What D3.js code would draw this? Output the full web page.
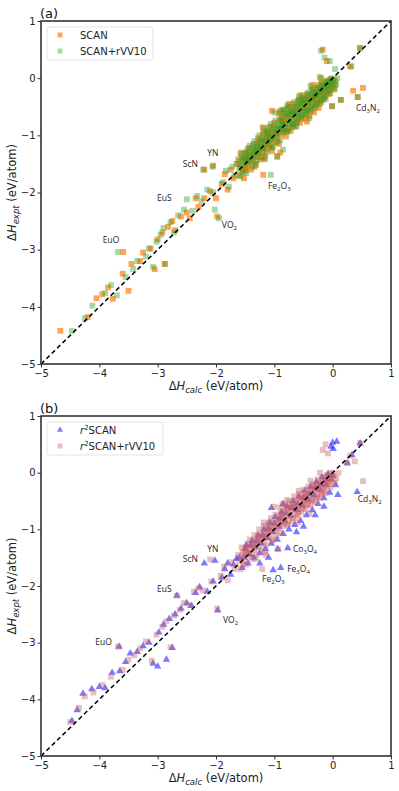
<!DOCTYPE html>
<html>
<head>
<meta charset="utf-8">
<script src="https://cdn.jsdelivr.net/npm/d3@7"></script>
<style>
  body { margin: 0; background: #fff; }
  svg { font-family: "DejaVu Sans", sans-serif; }
</style>
</head>
<body>
<script>
// axis ticks shared by both panels
const ticks = [-5, -4, -3, -2, -1, 0, 1];

// panel (a): SCAN, [calc, expt]
const scanPts = [
  [-4.67,-4.42],[-4.2,-4.18],[-4.05,-3.85],[-3.95,-3.78],[-3.85,-3.66],[-3.77,-3.86],[-3.6,-3.42],[-3.59,-3.04],
  [-3.5,-3.72],[-3.45,-3.25],[-3.3,-3.2],[-3.25,-3.05],[-3.12,-2.98],[-3.05,-3.34],[-3.0,-2.82],[-2.92,-2.7],
  [-2.88,-3.25],[-2.82,-2.6],[-2.75,-2.5],[-2.7,-2.66],[-2.6,-2.42],[-2.5,-2.35],[-2.45,-2.45],[-2.35,-2.1],
  [-2.3,-2.25],[-2.2,-1.6],[-2.2,-2.1],[-2.05,-1.53],[-2.1,-1.98],[-2.0,-2.1],[-1.98,-2.42],[-1.9,-1.85],
  [-1.85,-1.68],[-1.8,-1.95],[-1.75,-1.6],[-1.7,-1.75],[-1.65,-1.5],[-1.19,-1.69],[-0.95,-1.36],[-0.9,-1.3],
  [-0.17,0.5],[-0.1,0.3],[0.47,0.53],[0.3,0.21],[0.35,-0.22],[0.52,-0.17],[0.43,-0.33],[0.14,-0.38],[-0.01,-0.49],
  [-1.6,-1.45],[-1.6,-1.7],[-1.56,-1.38],[-1.56,-1.62],[-1.52,-1.5],[-1.52,-1.75],[-1.48,-1.3],[-1.48,-1.58],
  [-1.44,-1.22],[-1.44,-1.52],[-1.4,-1.35],[-1.4,-1.6],[-1.36,-1.15],[-1.36,-1.45],[-1.32,-1.25],[-1.32,-1.5],
  [-1.28,-1.05],[-1.28,-1.38],[-1.24,-1.18],[-1.24,-1.42],[-1.2,-0.98],[-1.2,-1.3],[-1.16,-1.1],[-1.16,-1.36],
  [-1.12,-0.92],[-1.12,-1.25],[-1.08,-0.85],[-1.08,-1.18],[-1.04,-0.95],[-1.04,-1.28],[-1.0,-0.78],[-1.0,-1.12],
  [-0.96,-0.88],[-0.96,-1.05],[-0.92,-0.62],[-0.92,-1.15],[-0.88,-0.7],[-0.88,-0.98],[-0.84,-0.58],[-0.84,-0.95],
  [-0.8,-0.66],[-0.8,-1.02],[-0.76,-0.52],[-0.76,-0.88],[-0.72,-0.6],[-0.72,-0.92],[-0.68,-0.45],[-0.68,-0.8],
  [-0.64,-0.55],[-0.64,-0.85],[-0.6,-0.4],[-0.6,-0.75],[-0.56,-0.48],[-0.56,-0.78],[-0.52,-0.34],[-0.52,-0.68],
  [-0.48,-0.42],[-0.48,-0.72],[-0.44,-0.28],[-0.44,-0.62],[-0.4,-0.36],[-0.4,-0.66],[-0.36,-0.22],[-0.36,-0.55],
  [-0.32,-0.3],[-0.32,-0.6],[-0.28,-0.16],[-0.28,-0.48],[-0.24,-0.25],[-0.24,-0.52],[-0.2,-0.1],[-0.2,-0.42],
  [-0.16,-0.18],[-0.16,-0.38],[-0.12,-0.06],[-0.12,-0.3],[-0.08,-0.14],[-0.08,-0.26],[-0.04,-0.02],[-0.04,-0.2],
  [0.0,-0.08],[0.0,-0.16],[0.04,-0.04],[0.04,-0.12],[-1.04,-0.57],[-0.9,-0.57],[-0.68,-0.82],[-0.44,-0.76],
  [-1.58,-1.56],[-1.54,-1.6],[-1.5,-1.45],[-1.46,-1.42],[-1.42,-1.45],[-1.38,-1.4],[-1.34,-1.3],[-1.3,-1.36],
  [-1.26,-1.22],[-1.22,-1.28],[-1.18,-1.15],[-1.14,-1.2],[-1.1,-1.05],[-1.06,-1.1],[-1.02,-1.02],[-0.98,-0.96],
  [-0.94,-0.92],[-0.9,-0.9],[-0.86,-0.82],[-0.82,-0.78],[-0.78,-0.74],[-0.74,-0.72],[-0.7,-0.68],[-0.66,-0.62],
  [-0.62,-0.65],[-0.58,-0.58],[-0.54,-0.52],[-0.5,-0.55],[-0.46,-0.46],[-0.42,-0.45],[-0.38,-0.4],[-0.34,-0.36],
  [-0.3,-0.38],[-0.26,-0.3],[-0.22,-0.32],[-0.18,-0.25],[-0.14,-0.2],[-0.1,-0.18],[-0.06,-0.12],[-0.02,-0.1],
  [-1.45,-1.38],[-1.25,-1.1],[-1.05,-0.98],[-0.85,-0.75],[-0.65,-0.58],[-0.45,-0.5],[-0.25,-0.35],[-1.15,-1.02],
  [-1.58,-1.32],[-1.5,-1.62],[-1.46,-1.34],[-1.38,-1.22],[-1.34,-1.55],[-1.26,-1.12],[-1.18,-1.4],[-1.14,-0.98],
  [-1.06,-1.2],[-1.02,-0.86],[-0.94,-1.1],[-0.9,-0.72],[-0.86,-0.92],[-0.82,-0.66],[-0.78,-0.9],[-0.74,-0.62],
  [-0.7,-0.82],[-0.66,-0.52],[-0.62,-0.76],[-0.58,-0.44],[-0.54,-0.66],[-0.5,-0.38],[-0.46,-0.58],[-0.42,-0.32],
  [-0.38,-0.52],[-0.34,-0.26],[-0.3,-0.46],[-0.26,-0.2],[-0.22,-0.4],[-0.18,-0.14],[-0.14,-0.34],[-0.1,-0.08],
  [-0.06,-0.28],[-0.02,-0.04],[0.02,-0.2],[-0.2,0.0],[-0.35,-0.12],[-0.55,-0.3],[-0.75,-0.45],[-1.2,-0.86]
];

// panel (a): SCAN+rVV10
const scanVdwPts = [
  [-4.47,-4.42],[-4.25,-4.2],[-4.12,-3.98],[-3.9,-3.76],[-3.8,-3.62],[-3.7,-3.8],[-3.68,-3.04],[-3.55,-3.48],
  [-3.42,-3.34],[-3.35,-3.2],[-3.2,-3.12],[-3.15,-2.98],[-3.08,-3.3],[-3.02,-2.86],[-2.95,-2.74],[-2.9,-2.62],
  [-2.87,-3.25],[-2.78,-2.52],[-2.72,-2.7],[-2.65,-2.4],[-2.55,-2.3],[-2.5,-2.12],[-2.4,-2.32],[-2.32,-2.06],
  [-2.25,-2.15],[-2.22,-1.6],[-2.15,-1.95],[-2.06,-1.55],[-2.05,-2.0],[-2.02,-2.3],[-1.95,-2.45],[-1.88,-1.82],
  [-1.83,-1.62],[-1.78,-1.9],[-1.72,-1.55],[-1.68,-1.7],[-1.62,-1.42],[-1.06,-1.69],[-0.95,-1.38],[-0.85,-1.25],
  [-0.2,0.48],[-0.14,0.36],[-0.05,0.3],[0.47,0.52],[0.32,0.2],[0.04,0.16],[0.43,-0.33],[0.14,-0.38],[-0.01,-0.49],
  [-1.62,-1.5],[-1.58,-1.72],[-1.54,-1.4],[-1.54,-1.65],[-1.5,-1.32],[-1.5,-1.56],[-1.46,-1.25],[-1.46,-1.48],
  [-1.42,-1.18],[-1.42,-1.42],[-1.38,-1.28],[-1.38,-1.55],[-1.34,-1.1],[-1.34,-1.36],[-1.3,-1.2],[-1.3,-1.44],
  [-1.26,-1.0],[-1.26,-1.3],[-1.22,-1.12],[-1.22,-1.38],[-1.18,-0.94],[-1.18,-1.22],[-1.14,-1.04],[-1.14,-1.3],
  [-1.1,-0.88],[-1.1,-1.16],[-1.06,-0.8],[-1.06,-1.08],[-1.02,-0.9],[-1.02,-1.2],[-0.98,-0.74],[-0.98,-1.02],
  [-0.94,-0.82],[-0.94,-0.98],[-0.9,-0.6],[-0.9,-1.08],[-0.86,-0.68],[-0.86,-0.9],[-0.82,-0.55],[-0.82,-0.86],
  [-0.78,-0.62],[-0.78,-0.94],[-0.74,-0.5],[-0.74,-0.8],[-0.7,-0.56],[-0.7,-0.86],[-0.66,-0.42],[-0.66,-0.72],
  [-0.62,-0.5],[-0.62,-0.78],[-0.58,-0.38],[-0.58,-0.68],[-0.54,-0.44],[-0.54,-0.7],[-0.5,-0.3],[-0.5,-0.6],
  [-0.46,-0.38],[-0.46,-0.64],[-0.42,-0.25],[-0.42,-0.55],[-0.38,-0.32],[-0.38,-0.58],[-0.34,-0.2],[-0.34,-0.48],
  [-0.3,-0.26],[-0.3,-0.52],[-0.26,-0.12],[-0.26,-0.42],[-0.22,-0.2],[-0.22,-0.45],[-0.18,-0.08],[-0.18,-0.35],
  [-0.14,-0.14],[-0.14,-0.32],[-0.1,-0.04],[-0.1,-0.24],[-0.06,-0.1],[-0.06,-0.2],[-0.02,0.0],[-0.02,-0.15],
  [0.02,-0.06],[0.06,-0.1],[0.08,0.0],[-1.0,-0.6],[-0.86,-0.55],[-0.62,-0.84],[-0.4,-0.7],[-1.3,-1.32],[-0.9,-0.86],
  [-1.6,-1.58],[-1.56,-1.52],[-1.52,-1.42],[-1.48,-1.46],[-1.44,-1.38],[-1.4,-1.44],[-1.36,-1.32],[-1.32,-1.26],
  [-1.28,-1.25],[-1.24,-1.2],[-1.2,-1.22],[-1.16,-1.12],[-1.12,-1.1],[-1.08,-1.02],[-1.04,-1.05],[-1.0,-0.94],
  [-0.96,-0.96],[-0.92,-0.88],[-0.88,-0.84],[-0.84,-0.8],[-0.8,-0.8],[-0.76,-0.7],[-0.72,-0.74],[-0.68,-0.64],
  [-0.64,-0.62],[-0.6,-0.6],[-0.56,-0.55],[-0.52,-0.5],[-0.48,-0.52],[-0.44,-0.44],[-0.4,-0.42],[-0.36,-0.38],
  [-0.32,-0.34],[-0.28,-0.3],[-0.24,-0.28],[-0.2,-0.24],[-0.16,-0.22],[-0.12,-0.16],[-0.08,-0.1],[-0.04,-0.08],
  [-1.5,-1.4],[-1.3,-1.15],[-1.1,-0.96],[-0.9,-0.75],[-0.7,-0.62],[-0.5,-0.4],[-0.3,-0.3],[-1.2,-1.05],
  [-1.56,-1.3],[-1.48,-1.66],[-1.44,-1.3],[-1.36,-1.2],[-1.32,-1.52],[-1.24,-1.08],[-1.16,-1.42],[-1.12,-0.96],
  [-1.04,-1.22],[-1.0,-0.84],[-0.96,-1.12],[-0.88,-0.74],[-0.84,-0.94],[-0.8,-0.62],[-0.76,-0.92],[-0.72,-0.58],
  [-0.68,-0.8],[-0.64,-0.5],[-0.6,-0.72],[-0.56,-0.42],[-0.52,-0.64],[-0.48,-0.36],[-0.44,-0.56],[-0.4,-0.3],
  [-0.36,-0.5],[-0.32,-0.24],[-0.28,-0.44],[-0.24,-0.18],[-0.2,-0.38],[-0.16,-0.12],[-0.12,-0.36],[-0.08,-0.06],
  [-0.04,-0.26],[0.0,-0.02],[0.04,-0.18],[-0.22,0.02],[-0.38,-0.14],[-0.58,-0.32],[-0.78,-0.48],[-1.18,-0.88]
];

// panel (b): r2SCAN
const r2scanPts = [
  [-4.47,-4.38],[-4.38,-4.19],[-4.28,-3.9],[-4.13,-3.82],[-4.0,-3.78],[-3.9,-3.8],[-3.78,-3.53],[-3.65,-3.5],
  [-3.66,-3.07],[-3.55,-3.34],[-3.47,-3.19],[-3.35,-3.16],[-3.25,-3.06],[-3.15,-3.0],[-3.08,-3.37],[-3.0,-3.42],
  [-2.98,-2.82],[-2.9,-2.68],[-2.85,-3.3],[-2.75,-3.09],[-2.8,-2.58],[-2.7,-2.5],[-2.67,-2.17],[-2.6,-2.4],
  [-2.5,-2.3],[-2.42,-2.35],[-2.35,-2.12],[-2.28,-2.02],[-2.2,-1.6],[-2.15,-2.1],[-2.02,-1.55],[-2.05,-1.92],
  [-1.97,-2.43],[-1.9,-1.85],[-1.85,-1.7],[-1.8,-1.6],[-1.75,-1.8],[-1.7,-1.62],[-1.65,-1.52],
  [-0.77,-1.33],[-0.94,-1.35],[-0.89,-1.68],[-1.02,-1.72],[-1.1,-1.5],[-1.25,-1.6],
  [0.0,0.53],[0.01,0.42],[-0.03,0.46],[0.07,0.55],[0.47,0.52],[0.33,0.31],[0.25,0.17],[0.42,-0.34],[0.09,-0.39],
  [-1.6,-1.5],[-1.55,-1.68],[-1.5,-1.35],[-1.45,-1.6],[-1.4,-1.28],[-1.35,-1.5],[-1.3,-1.2],[-1.25,-1.42],
  [-1.2,-1.1],[-1.15,-1.35],[-1.1,-0.98],[-1.05,-1.25],[-1.0,-0.9],[-0.95,-1.18],[-0.9,-0.8],[-0.85,-1.08],
  [-0.8,-0.72],[-0.75,-1.0],[-0.7,-0.62],[-0.65,-0.92],[-0.6,-0.55],[-0.55,-0.85],[-0.5,-0.45],[-0.45,-0.75],
  [-0.4,-0.38],[-0.35,-0.66],[-0.3,-0.28],[-0.25,-0.55],[-0.2,-0.2],[-0.15,-0.45],[-0.1,-0.12],[-0.05,-0.35],
  [0.0,-0.05],[0.05,-0.22],[-0.62,-1.05],[-0.5,-0.95],[-0.3,-0.75],[-0.15,-0.6],[-1.05,-0.62],[-0.85,-0.55],
  [-1.52,-1.5],[-1.42,-1.44],[-1.32,-1.32],[-1.22,-1.25],[-1.12,-1.15],[-1.02,-1.05],[-0.92,-0.95],[-0.82,-0.85],
  [-0.72,-0.76],[-0.62,-0.66],[-0.52,-0.58],[-0.42,-0.48],[-0.32,-0.4],[-0.22,-0.3],[-0.12,-0.22],[-0.02,-0.12],
  [-1.48,-1.28],[-1.38,-1.2],[-1.28,-1.1],[-1.18,-1.0],[-1.08,-0.88],[-0.98,-0.78],[-0.88,-0.7],[-0.78,-0.6],
  [-0.68,-0.5],[-0.58,-0.42],[-0.48,-0.32],[-0.38,-0.25],[-0.28,-0.16],[-0.18,-0.08],[-0.08,-0.02]
];

// panel (b): r2SCAN+rVV10
const r2scanVdwPts = [
  [-4.5,-4.4],[-4.35,-4.15],[-4.25,-3.95],[-4.1,-3.88],[-3.95,-3.75],[-3.8,-3.6],[-3.68,-3.07],[-3.6,-3.48],
  [-3.5,-3.3],[-3.4,-3.22],[-3.3,-3.1],[-3.2,-2.98],[-3.1,-3.32],[-3.02,-2.86],[-2.92,-2.72],[-2.85,-2.62],
  [-2.78,-3.08],[-2.72,-2.52],[-2.67,-2.17],[-2.62,-2.42],[-2.55,-2.3],[-2.45,-2.34],[-2.38,-2.1],[-2.3,-2.04],
  [-2.22,-2.08],[-2.1,-1.53],[-2.08,-1.92],[-1.98,-2.4],[-1.92,-1.82],[-1.86,-1.66],[-1.8,-1.9],[-1.74,-1.58],
  [-1.68,-1.7],[-0.94,-1.35],[-1.21,-1.7],[-1.15,-1.45],
  [-0.17,0.4],[-0.12,0.5],[-0.08,0.34],[0.47,0.52],[0.38,0.2],[0.25,0.17],[0.52,-0.15],[0.3,0.3],
  [-1.62,-1.45],[-1.58,-1.7],[-1.54,-1.4],[-1.54,-1.62],[-1.5,-1.32],[-1.5,-1.56],[-1.46,-1.25],[-1.46,-1.48],
  [-1.42,-1.18],[-1.42,-1.42],[-1.38,-1.28],[-1.38,-1.52],[-1.34,-1.1],[-1.34,-1.36],[-1.3,-1.2],[-1.3,-1.44],
  [-1.26,-1.0],[-1.26,-1.3],[-1.22,-1.12],[-1.22,-1.36],[-1.18,-0.94],[-1.18,-1.22],[-1.14,-1.04],[-1.14,-1.28],
  [-1.1,-0.88],[-1.1,-1.16],[-1.06,-0.8],[-1.06,-1.08],[-1.02,-0.9],[-1.02,-1.18],[-0.98,-0.74],[-0.98,-1.0],
  [-0.94,-0.82],[-0.94,-0.98],[-0.9,-0.62],[-0.9,-1.05],[-0.86,-0.68],[-0.86,-0.9],[-0.82,-0.56],[-0.82,-0.86],
  [-0.78,-0.62],[-0.78,-0.92],[-0.74,-0.5],[-0.74,-0.8],[-0.7,-0.56],[-0.7,-0.86],[-0.66,-0.42],[-0.66,-0.72],
  [-0.62,-0.5],[-0.62,-0.78],[-0.58,-0.38],[-0.58,-0.68],[-0.54,-0.44],[-0.54,-0.7],[-0.5,-0.3],[-0.5,-0.6],
  [-0.46,-0.38],[-0.46,-0.64],[-0.42,-0.25],[-0.42,-0.55],[-0.38,-0.32],[-0.38,-0.58],[-0.34,-0.2],[-0.34,-0.48],
  [-0.3,-0.26],[-0.3,-0.52],[-0.26,-0.12],[-0.26,-0.42],[-0.22,-0.2],[-0.22,-0.45],[-0.18,-0.08],[-0.18,-0.35],
  [-0.14,-0.14],[-0.14,-0.32],[-0.1,-0.04],[-0.1,-0.24],[-0.06,-0.1],[-0.06,-0.2],[-0.02,0.0],[-0.02,-0.15],
  [0.02,-0.06],[0.06,-0.1],[0.1,0.0],[-1.0,-0.6],[-0.86,-0.55],[-0.6,-0.88],[-0.4,-0.72],[-0.9,-0.86],[-0.5,-0.52],
  [-1.6,-1.56],[-1.56,-1.5],[-1.52,-1.45],[-1.48,-1.4],[-1.44,-1.42],[-1.4,-1.36],[-1.36,-1.3],[-1.32,-1.28],
  [-1.28,-1.22],[-1.24,-1.2],[-1.2,-1.16],[-1.16,-1.12],[-1.12,-1.06],[-1.08,-1.0],[-1.04,-1.02],[-1.0,-0.96],
  [-0.96,-0.9],[-0.92,-0.88],[-0.88,-0.8],[-0.84,-0.78],[-0.8,-0.76],[-0.76,-0.7],[-0.72,-0.68],[-0.68,-0.62],
  [-0.64,-0.6],[-0.6,-0.64],[-0.56,-0.56],[-0.52,-0.5],[-0.48,-0.48],[-0.44,-0.42],[-0.4,-0.46],[-0.36,-0.36],
  [-0.32,-0.38],[-0.28,-0.3],[-0.24,-0.32],[-0.2,-0.24],[-0.16,-0.26],[-0.12,-0.18],[-0.08,-0.16],[-0.04,-0.1],
  [-1.48,-1.36],[-1.28,-1.12],[-1.08,-0.94],[-0.88,-0.72],[-0.68,-0.55],[-0.48,-0.42],[-0.28,-0.22],[-1.18,-1.05],
  [-1.56,-1.32],[-1.48,-1.62],[-1.44,-1.3],[-1.36,-1.2],[-1.32,-1.52],[-1.24,-1.1],[-1.16,-1.4],[-1.12,-0.98],
  [-1.04,-1.2],[-1.0,-0.84],[-0.96,-1.1],[-0.88,-0.74],[-0.84,-0.94],[-0.8,-0.64],[-0.76,-0.9],[-0.72,-0.6],
  [-0.68,-0.8],[-0.64,-0.52],[-0.6,-0.74],[-0.56,-0.44],[-0.52,-0.64],[-0.48,-0.36],[-0.44,-0.56],[-0.4,-0.3],
  [-0.36,-0.5],[-0.32,-0.24],[-0.28,-0.44],[-0.24,-0.18],[-0.2,-0.38],[-0.16,-0.12],[-0.12,-0.36],[-0.08,-0.06],
  [-0.04,-0.26],[0.0,-0.02],[0.04,-0.18],[-0.22,0.0],[-0.38,-0.14],[-0.58,-0.32],[-0.78,-0.48],[-1.18,-0.88]
];

// material labels: name parts [text, isSub], anchored at [calc, expt]
const notesA = [
  {parts: [["Cd",0],["3",1],["N",0],["2",1]], at: [0.4, -0.57]},
  {parts: [["Fe",0],["2",1],["O",0],["3",1]], at: [-1.11, -1.94]},
  {parts: [["YN",0]], at: [-2.15, -1.36]},
  {parts: [["ScN",0]], at: [-2.57, -1.55]},
  {parts: [["EuS",0]], at: [-3.01, -2.15]},
  {parts: [["VO",0],["2",1]], at: [-1.9, -2.62]},
  {parts: [["EuO",0]], at: [-3.94, -2.88]}
];
const notesB = [
  {parts: [["Cd",0],["3",1],["N",0],["2",1]], at: [0.43, -0.52]},
  {parts: [["Co",0],["3",1],["O",0],["4",1]], at: [-0.68, -1.4]},
  {parts: [["Fe",0],["3",1],["O",0],["4",1]], at: [-0.78, -1.75]},
  {parts: [["Fe",0],["2",1],["O",0],["3",1]], at: [-1.21, -1.93]},
  {parts: [["YN",0]], at: [-2.15, -1.4]},
  {parts: [["ScN",0]], at: [-2.57, -1.58]},
  {parts: [["EuS",0]], at: [-3.01, -2.1]},
  {parts: [["VO",0],["2",1]], at: [-1.88, -2.66]},
  {parts: [["EuO",0]], at: [-4.07, -3.04]}
];

const W = 399, H = 791;
const svg = d3.select("body").append("svg").attr("width", W).attr("height", H);

let fmt = d => d < 0 ? "\u2212" + Math.abs(d) : "" + d;

function panel(cfg) {
  let x = d3.scaleLinear().domain([-5, 1]).range([41, 391]);
  let y = d3.scaleLinear().domain([-5, 1]).range([cfg.bottom, cfg.top]);
  let g = svg.append("g");

  // points
  cfg.series.forEach(s => {
    g.append("g").selectAll("path").data(s.data).enter().append("path")
      .attr("transform", d => `translate(${x(d[0])},${y(d[1])})`)
      .attr("d", d3.symbol().type(s.shape).size(s.size))
      .attr("fill", s.color)
      .attr("fill-opacity", s.alpha);
  });

  // diagonal
  g.append("line")
    .attr("x1", x(-5)).attr("y1", y(-5)).attr("x2", x(1)).attr("y2", y(1))
    .attr("stroke", "#000").attr("stroke-width", 1.5).attr("stroke-dasharray", "4.5,3");

  // frame
  g.append("rect")
    .attr("x", x(-5)).attr("y", y(1)).attr("width", x(1) - x(-5)).attr("height", y(-5) - y(1))
    .attr("fill", "none").attr("stroke", "#333").attr("stroke-width", 1.6);

  let xa = g.append("g").attr("transform", `translate(0,${cfg.bottom})`)
    .call(d3.axisBottom(x).tickValues(ticks).tickFormat(fmt).tickSize(3.5).tickPadding(2));
  let ya = g.append("g").attr("transform", "translate(41,0)")
    .call(d3.axisLeft(y).tickValues(ticks).tickFormat(fmt).tickSize(3.5).tickPadding(2));
  [xa, ya].forEach(a => {
    a.select(".domain").remove();
    a.selectAll("text").attr("font-family", "DejaVu Sans").attr("font-size", 10).attr("fill", "#222");
    a.selectAll("line").attr("stroke", "#333");
  });

  // axis titles
  let xt = g.append("text").attr("x", 216).attr("y", cfg.bottom + 26)
    .attr("text-anchor", "middle").attr("font-size", 11.5).attr("fill", "#222");
  xt.append("tspan").text("\u0394");
  xt.append("tspan").attr("font-style", "italic").text("H");
  xt.append("tspan").attr("font-style", "italic").attr("font-size", 8.5).attr("dy", 2.5).text("calc");
  xt.append("tspan").attr("dy", -2.5).text(" (eV/atom)");

  let yt = g.append("text")
    .attr("transform", `translate(16,${(cfg.top + cfg.bottom) / 2}) rotate(-90)`)
    .attr("text-anchor", "middle").attr("font-size", 11.5).attr("fill", "#222");
  yt.append("tspan").text("\u0394");
  yt.append("tspan").attr("font-style", "italic").text("H");
  yt.append("tspan").attr("font-style", "italic").attr("font-size", 8.5).attr("dy", 2.5).text("expt");
  yt.append("tspan").attr("dy", -2.5).text(" (eV/atom)");

  // panel tag
  g.append("text").attr("x", 40).attr("y", cfg.top - 3)
    .attr("font-size", 13).attr("fill", "#111").text(cfg.tag);

  // material labels
  cfg.notes.forEach(n => {
    let t = g.append("text").attr("x", x(n.at[0])).attr("y", y(n.at[1]))
      .attr("font-family", "Open Sans").attr("font-size", 8.5).attr("fill", "#222");
    let prevSub = false;
    n.parts.forEach(p => {
      let isSub = !!p[1];
      let dy = isSub && !prevSub ? 2 : (!isSub && prevSub ? -2 : 0);
      let ts = t.append("tspan").attr("dy", dy).text(p[0]);
      if (isSub) ts.attr("font-size", 6);
      prevSub = isSub;
    });
  });

  // legend
  let lg = g.append("g").attr("transform", `translate(47,${cfg.top + 6})`);
  lg.append("rect").attr("width", cfg.legendW).attr("height", 33).attr("rx", 2.5)
    .attr("fill", "#fff").attr("fill-opacity", 0.8).attr("stroke", "#ddd").attr("stroke-width", 0.8);
  cfg.series.forEach((s, i) => {
    lg.append("path").attr("transform", `translate(13,${8 + i * 16})`)
      .attr("d", d3.symbol().type(s.shape).size(s.size * 0.7))
      .attr("fill", s.color).attr("fill-opacity", s.alpha);
    let t = lg.append("text").attr("x", 33).attr("y", 12 + i * 16)
      .attr("font-size", 10).attr("fill", "#222");
    if (s.r2) {
      t.append("tspan").attr("font-style", "italic").text("r");
      t.append("tspan").attr("font-size", 7).attr("dy", -4).text("2");
      t.append("tspan").attr("dy", 4).text(s.name);
    } else {
      t.text(s.name);
    }
  });
}

panel({
  top: 21, bottom: 364, tag: "(a)", legendW: 106, notes: notesA,
  series: [
    {name: "SCAN", data: scanPts, shape: d3.symbolSquare, size: 34, color: "#ff7f0e", alpha: 0.7},
    {name: "SCAN+rVV10", data: scanVdwPts, shape: d3.symbolSquare, size: 34, color: "#2ca02c", alpha: 0.42}
  ]
});

panel({
  top: 416, bottom: 756, tag: "(b)", legendW: 116, notes: notesB,
  series: [
    {name: "SCAN", r2: true, data: r2scanPts, shape: d3.symbolTriangle, size: 24, color: "#2222ff", alpha: 0.6},
    {name: "SCAN+rVV10", r2: true, data: r2scanVdwPts, shape: d3.symbolSquare, size: 34, color: "#cd5c5c", alpha: 0.4}
  ]
});
</script>
</body>
</html>
